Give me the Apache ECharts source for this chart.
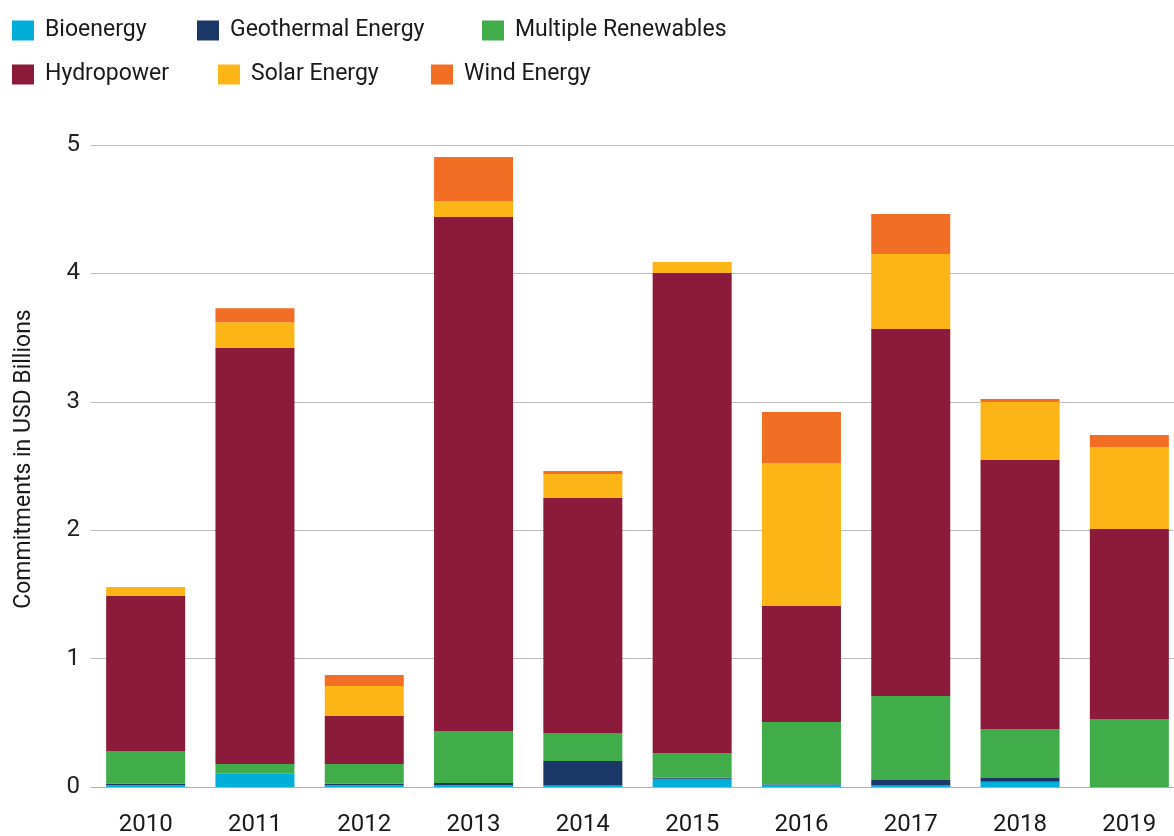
<!DOCTYPE html>
<html>
<head>
<meta charset="utf-8">
<script src="https://cdn.jsdelivr.net/npm/echarts@6/dist/echarts.min.js"></script>
<style>
  html, body { margin: 0; padding: 0; background: #fff; }
  #chart { width: 1174px; height: 836px; }
</style>
</head>
<body>
<div id="chart"></div>
<script>
'use strict';
// Renewable energy commitments by source, stacked by year (USD billions)

const years = ['2010', '2011', '2012', '2013', '2014', '2015', '2016', '2017', '2018', '2019'];
const bioenergy  = [0.013, 0.104, 0.013, 0.016, 0.012, 0.065, 0.018, 0.012, 0.040, 0];
const geothermal = [0.013, 0,     0.013, 0.015, 0.190, 0.008, 0.003, 0.043, 0.030, 0];
const multiple   = [0.254, 0.075, 0.153, 0.405, 0.218, 0.192, 0.485, 0.654, 0.382, 0.530];
const hydropower = [1.207, 3.240, 0.374, 4.003, 1.831, 3.738, 0.904, 2.858, 2.095, 1.479];
const solar      = [0.070, 0.200, 0.234, 0.125, 0.187, 0.086, 1.113, 0.584, 0.451, 0.639];
const wind       = [0,     0.110, 0.085, 0.342, 0.023, 0,     0.397, 0.312, 0.024, 0.093];
const yTicks = [0, 1, 2, 3, 4, 5];

const SERIES = [
  { name: 'Bioenergy', data: bioenergy, color: '#00AEDA' },
  { name: 'Geothermal Energy', data: geothermal, color: '#1B3768' },
  { name: 'Multiple Renewables', data: multiple, color: '#40AD4A' },
  { name: 'Hydropower', data: hydropower, color: '#8C1A3A' },
  { name: 'Solar Energy', data: solar, color: '#FBB516' },
  { name: 'Wind Energy', data: wind, color: '#F26E25' }
];
// legend slots: [left, top] per item, two rows like the source
const LEG_POS = [[12, 19], [197, 19], [482, 19], [12, 63], [218, 63], [431, 63]];
const FONT = "Roboto, 'Noto Sans', sans-serif";

const chart = echarts.init(document.getElementById('chart'), null, { renderer: 'canvas' });

const option = {
  animation: false,
  textStyle: { fontFamily: FONT },
  legend: SERIES.map((s, i) => ({
    left: LEG_POS[i][0], top: LEG_POS[i][1],
    data: [s.name], icon: 'rect', itemWidth: 22, itemHeight: 20, itemGap: 0,
    selectedMode: false, padding: 0,
    textStyle: { fontFamily: FONT, fontSize: 23, color: '#1a1a1a', padding: [0, 0, 0, 6] }
  })),
  // v6 would shrink the grid to keep labels inside; the source lets the last band run off the edge
  grid: { left: 91, width: 1093, top: 145, bottom: 49, containLabel: false, outerBoundsMode: 'none' },
  xAxis: {
    type: 'category', data: years,
    axisLine: { lineStyle: { color: '#b0b0b0', width: 1 } },
    axisTick: { show: false },
    axisLabel: { fontFamily: FONT, fontSize: 24, color: '#1a1a1a', margin: 26 }
  },
  yAxis: {
    type: 'value', min: yTicks[0], max: yTicks[yTicks.length - 1], interval: 1,
    name: 'Commitments in USD Billions', nameLocation: 'middle', nameGap: 55, nameRotate: 90,
    nameTextStyle: { fontFamily: FONT, fontSize: 23, color: '#1a1a1a', padding: [0, 0, 0, 14] },
    axisLine: { show: false }, axisTick: { show: false },
    axisLabel: { fontFamily: FONT, fontSize: 24, color: '#222', margin: 11 },
    splitLine: { lineStyle: { color: '#bdbdbd', width: 1 } }
  },
  series: SERIES.map(s => ({
    name: s.name, type: 'bar', stack: 'total', data: s.data,
    barWidth: 79, itemStyle: { color: s.color }, emphasis: { disabled: true }
  }))
};

chart.setOption(option);
window.addEventListener('resize', () => chart.resize());
</script>
</body>
</html>
